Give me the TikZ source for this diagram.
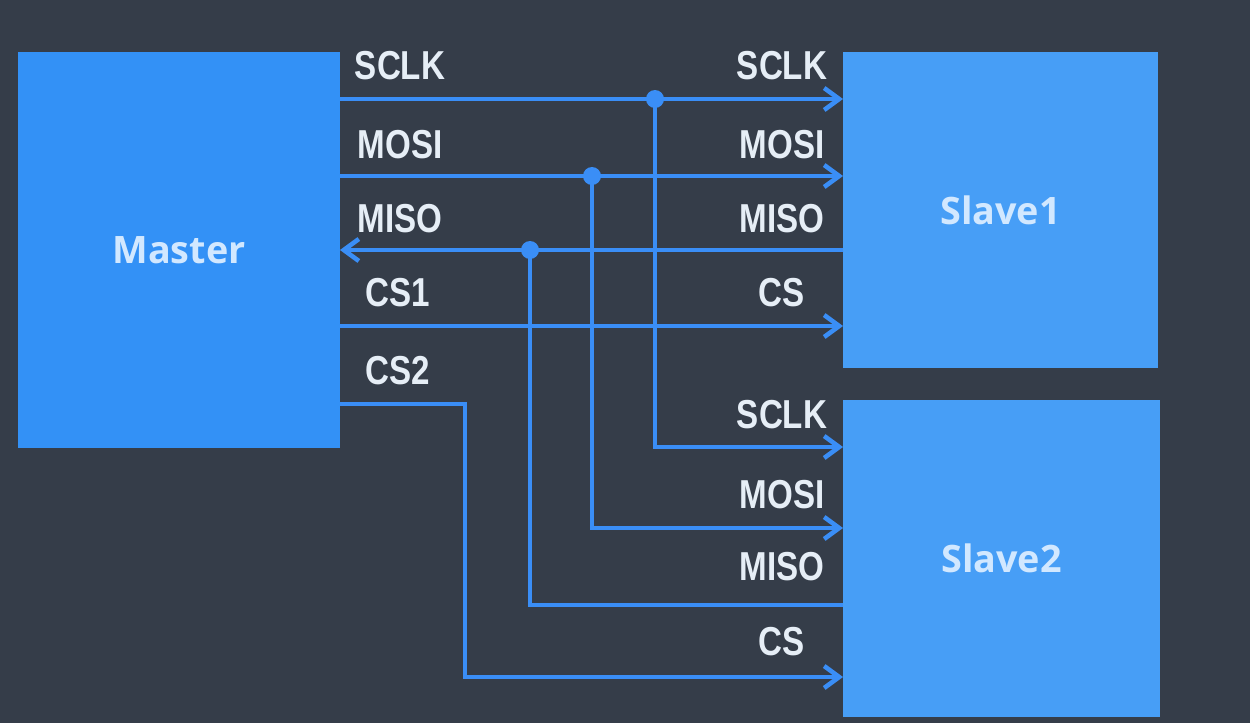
\documentclass[tikz,border=0pt]{standalone}
\usepackage{fontspec}
\usepackage{tikz}
\usetikzlibrary{shapes,arrows.meta,positioning,calc}

\newfontfamily\pinfont[FakeStretch=0.82]{Liberation Sans}
\newfontfamily\chipfont{Open Sans}

\definecolor{bg}{HTML}{353D49}
\definecolor{wire}{HTML}{3A8EF6}
\definecolor{mfill}{HTML}{3391F6}
\definecolor{sfill}{HTML}{479EF6}
\definecolor{pintext}{HTML}{E6EEF6}
\definecolor{chiptext}{HTML}{D2E8FF}

\tikzset{
  chip/.style={rectangle, inner sep=0, outer sep=0, text=chiptext,
    font=\chipfont\bfseries\fontsize{21.5}{21.5}\selectfont},
  pin/.style={inner sep=0, anchor=base, text=pintext,
    font=\pinfont\bfseries\fontsize{23}{23}\selectfont},
  sig/.style={draw=wire, line width=2.6pt},
  dot/.style={fill=wire},
  >={Straight Barb[length=0.3cm,width=0.44cm]}
}

\begin{document}
\begin{tikzpicture}[x=0.02cm, y=-0.02cm]
\fill[bg] (0,0) rectangle (1250,723);

% 芯片
\node[chip, fill=mfill, minimum width=6.44cm, minimum height=7.92cm] (master) at (179,250) {Master};
\node[chip, fill=sfill, minimum width=6.3cm, minimum height=6.32cm] (slave1) at (1000.5,210) {Slave1};
\node[chip, fill=sfill, minimum width=6.34cm, minimum height=6.34cm] (slave2) at (1001.5,558.5) {Slave2};

% 引脚名
\node[pin] (msclk) at (400,80) {SCLK};
\node[pin] (mmosi) at (400,158) {MOSI};
\node[pin] (mmiso) at (400,232) {MISO};
\node[pin] (mcs1) at (398,306) {CS1};
\node[pin] (mcs2) at (398,384) {CS2};

\node[pin] (asclk) at (782,80) {SCLK};
\node[pin] (amosi) at (782,158) {MOSI};
\node[pin] (amiso) at (782,232) {MISO};
\node[pin] (acs) at (782,306) {CS};

\node[pin] (bsclk) at (782,428) {SCLK};
\node[pin] (bmosi) at (782,508) {MOSI};
\node[pin] (bmiso) at (782,580) {MISO};
\node[pin] (bcs) at (782,655) {CS};

% 分支点
\coordinate (jsclk) at (655,99);
\coordinate (jmosi) at (592,176);
\coordinate (jmiso) at (530,250);

% 连线
\draw[sig,->] (master.east |- 0,99) -- (slave1.west |- 0,99);
\draw[sig,->] (master.east |- 0,176) -- (slave1.west |- 0,176);
\draw[sig,->] (slave1.west |- 0,250) -- (master.east |- 0,250);
\draw[sig,->] (master.east |- 0,326) -- (slave1.west |- 0,326);
\draw[sig,->] (master.east |- 0,404) -| (465,677) -- (slave2.west |- 0,677);

\draw[sig,->] (jsclk) |- (slave2.west |- 0,447);
\draw[sig,->] (jmosi) |- (slave2.west |- 0,528);
\draw[sig] (slave2.west |- 0,605) -| (jmiso);

\fill[dot] (jsclk) circle[radius=0.18cm];
\fill[dot] (jmosi) circle[radius=0.18cm];
\fill[dot] (jmiso) circle[radius=0.18cm];
\end{tikzpicture}
\end{document}
